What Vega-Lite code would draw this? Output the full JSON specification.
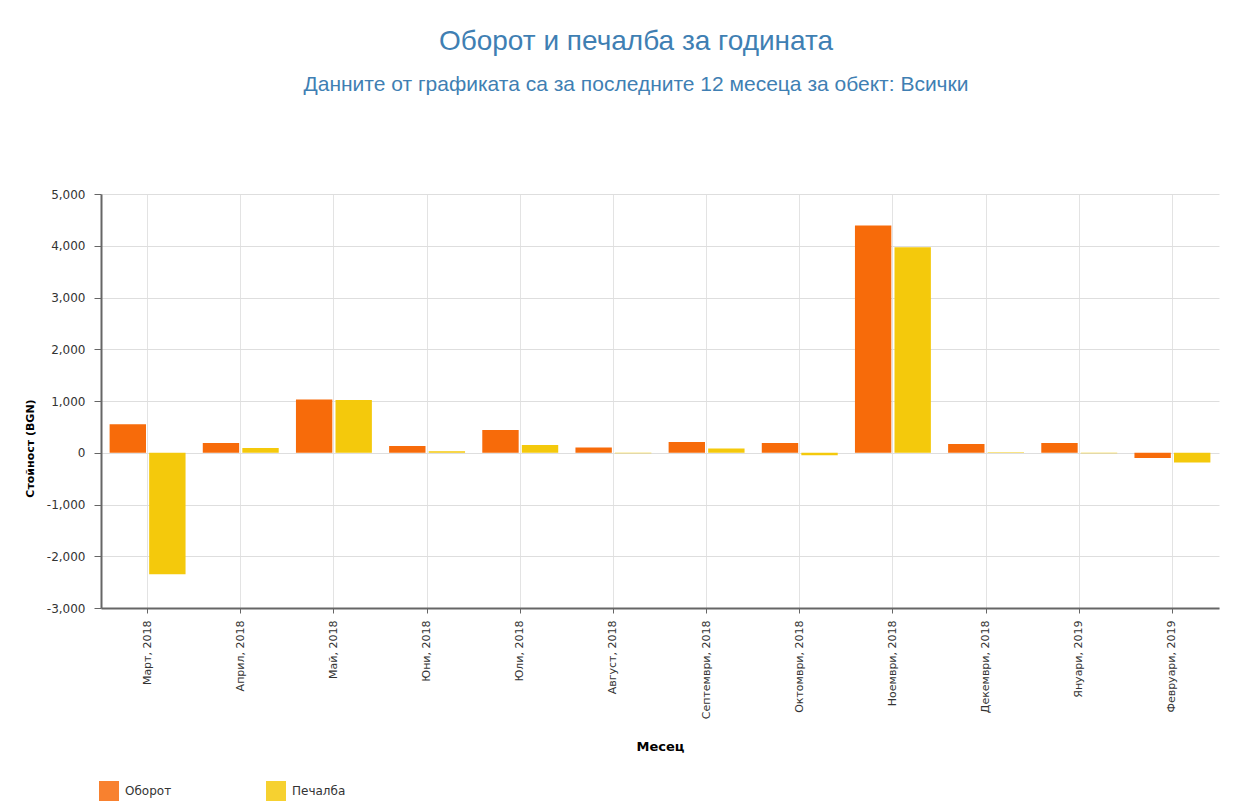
{
  "$schema": "https://vega.github.io/schema/vega-lite/v6.json",
  "width": 1118,
  "height": 414,
  "autosize": {"type": "none"},
  "padding": {"left": 101, "top": 194, "right": 28, "bottom": 197},
  "background": "white",
  "title": {
    "text": "Оборот и печалба за годината",
    "subtitle": "Данните от графиката са за последните 12 месеца за обект: Всички",
    "font": "Liberation Sans",
    "fontSize": 28,
    "fontWeight": "normal",
    "color": "#3F7FB3",
    "subtitleFont": "Liberation Sans",
    "subtitleFontSize": 21,
    "subtitleColor": "#3F7FB3",
    "subtitlePadding": 18,
    "offset": 93,
    "dx": -24,
    "anchor": "middle"
  },
  "data": {
    "values": [
      {"month": "Март, 2018", "series": "Оборот", "value": 550},
      {"month": "Март, 2018", "series": "Печалба", "value": -2350},
      {"month": "Април, 2018", "series": "Оборот", "value": 190},
      {"month": "Април, 2018", "series": "Печалба", "value": 90},
      {"month": "Май, 2018", "series": "Оборот", "value": 1030},
      {"month": "Май, 2018", "series": "Печалба", "value": 1020},
      {"month": "Юни, 2018", "series": "Оборот", "value": 130},
      {"month": "Юни, 2018", "series": "Печалба", "value": 30},
      {"month": "Юли, 2018", "series": "Оборот", "value": 440},
      {"month": "Юли, 2018", "series": "Печалба", "value": 150},
      {"month": "Август, 2018", "series": "Оборот", "value": 100},
      {"month": "Август, 2018", "series": "Печалба", "value": -10},
      {"month": "Септември, 2018", "series": "Оборот", "value": 210},
      {"month": "Септември, 2018", "series": "Печалба", "value": 80},
      {"month": "Октомври, 2018", "series": "Оборот", "value": 190},
      {"month": "Октомври, 2018", "series": "Печалба", "value": -50},
      {"month": "Ноември, 2018", "series": "Оборот", "value": 4390},
      {"month": "Ноември, 2018", "series": "Печалба", "value": 3970},
      {"month": "Декември, 2018", "series": "Оборот", "value": 170},
      {"month": "Декември, 2018", "series": "Печалба", "value": 10},
      {"month": "Януари, 2019", "series": "Оборот", "value": 190},
      {"month": "Януари, 2019", "series": "Печалба", "value": -10},
      {"month": "Февруари, 2019", "series": "Оборот", "value": -100},
      {"month": "Февруари, 2019", "series": "Печалба", "value": -190}
    ]
  },
  "mark": {"type": "bar"},
  "encoding": {
    "x": {
      "field": "month",
      "type": "nominal",
      "sort": null,
      "scale": {"paddingInner": 0.185, "paddingOuter": 0.0925},
      "axis": {
        "title": "Месец",
        "titleFont": "DejaVu Sans",
        "titleFontSize": 13,
        "titleFontWeight": "bold",
        "titleColor": "#000",
        "titleY": 138,
        "titleBaseline": "middle",
        "labelAngle": -90,
        "labelAlign": "right",
        "labelBaseline": "middle",
        "labelFont": "DejaVu Sans",
        "labelFontSize": 11,
        "labelColor": "#333",
        "labelPadding": 7,
        "tickSize": 5,
        "tickColor": "#666",
        "domainColor": "#666",
        "domainWidth": 2,
        "grid": true,
        "gridColor": "#e3e3e3"
      }
    },
    "xOffset": {"field": "series", "type": "nominal", "scale": {"paddingInner": 0.08}},
    "y": {
      "field": "value",
      "type": "quantitative",
      "scale": {"domain": [-3000, 5000], "nice": false},
      "axis": {
        "values": [-3000, -2000, -1000, 0, 1000, 2000, 3000, 4000, 5000],
        "format": ",d",
        "title": "Стойност (BGN)",
        "titleFont": "DejaVu Sans",
        "titleFontSize": 11,
        "titleFontWeight": "bold",
        "titleColor": "#000",
        "titleX": -71,
        "titleY": 254,
        "titleAngle": -90,
        "titleAlign": "center",
        "titleBaseline": "middle",
        "labelFont": "DejaVu Sans",
        "labelFontSize": 12,
        "labelColor": "#333",
        "labelPadding": 9,
        "tickSize": 7,
        "tickColor": "#666",
        "domainColor": "#666",
        "domainWidth": 2,
        "grid": true,
        "gridColor": "#dedede"
      }
    },
    "color": {
      "field": "series",
      "type": "nominal",
      "scale": {"domain": ["Оборот", "Печалба"], "range": ["#F76B0A", "#F4C90C"]},
      "legend": {
        "orient": "none",
        "legendX": -2,
        "legendY": 587,
        "direction": "horizontal",
        "title": null,
        "symbolType": "square",
        "symbolSize": 400,
        "symbolOpacity": 0.85,
        "symbolStrokeWidth": 0,
        "labelFont": "DejaVu Sans",
        "labelFontSize": 12,
        "labelColor": "#333",
        "labelOffset": 6,
        "columnPadding": 94
      }
    }
  },
  "config": {
    "view": {"stroke": null},
    "locale": {"number": {"decimal": ".", "thousands": ",", "grouping": [3], "currency": ["$", ""], "minus": "-"}}
  }
}
